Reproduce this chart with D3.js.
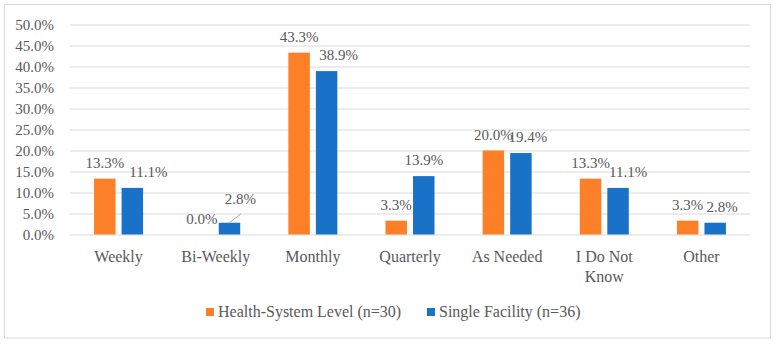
<!DOCTYPE html>
<html>
<head>
<meta charset="utf-8">
<script src="https://cdn.jsdelivr.net/npm/d3@7"></script>
<style>
  body { margin: 0; background: #fff; }
  svg text { font-family: "Liberation Serif", serif; fill: #595959; }
</style>
</head>
<body>
<div id="chart"></div>
<script>
var categories = ["Weekly", "Bi-Weekly", "Monthly", "Quarterly", "As Needed", "I Do Not Know", "Other"];
var seriesNames = ["Health-System Level (n=30)", "Single Facility (n=36)"];
var healthSystem = [13.3, 0.0, 43.3, 3.3, 20.0, 13.3, 3.3];
var singleFacility = [11.1, 2.8, 38.9, 13.9, 19.4, 11.1, 2.8];
var yTicks = [0, 5, 10, 15, 20, 25, 30, 35, 40, 45, 50];

// manual nudges for the single facility labels, like in the original
var labelShiftX = [16, 11, 12, 0, 7, 10, 7];
var labelShiftY = [0, -8, 0, 0, 0, 0, 0];

var colors = ["#fd7f27", "#1a72c8"];

var width = 776, height = 345;
var margin = {top: 24.5, right: 26, bottom: 110.5, left: 70};
var plotW = width - margin.left - margin.right,
    plotH = height - margin.top - margin.bottom;

var svg = d3.select("#chart").append("svg")
    .attr("width", width)
    .attr("height", height);

// outer frame
svg.append("rect")
    .attr("x", 4.5).attr("y", 4.5)
    .attr("width", 766).attr("height", 333.5)
    .attr("fill", "#fff")
    .attr("stroke", "#d9d9d9")
    .attr("stroke-width", 1);

var g = svg.append("g")
    .attr("transform", "translate(" + margin.left + "," + margin.top + ")");

var x = d3.scaleBand().domain(categories).range([0, plotW]);
var x1 = d3.scaleBand().domain([0, 1]).range([-24.5, 24.5]).paddingInner(0.22);
var y = d3.scaleLinear().domain([0, 50]).range([plotH, 0]);

// gridlines
g.selectAll("line.grid")
    .data(yTicks)
  .enter().append("line")
    .attr("class", "grid")
    .attr("x1", 0).attr("x2", plotW)
    .attr("y1", function(d) { return Math.round(y(d)) + 0.5; })
    .attr("y2", function(d) { return Math.round(y(d)) + 0.5; })
    .attr("stroke", "#d9d9d9")
    .attr("stroke-width", 1);

// y axis labels
var yAxis = d3.axisLeft(y)
    .tickValues(yTicks)
    .tickSize(0)
    .tickPadding(16)
    .tickFormat(function(d) { return d.toFixed(1) + "%"; });
var yg = g.append("g")
    .attr("class", "y axis")
    .call(yAxis);
yg.attr("font-family", null).attr("font-size", null);
yg.select(".domain").remove();
yg.selectAll("text")
    .attr("fill", null)
    .style("font-size", "15px");

// x axis labels
var xAxis = d3.axisBottom(x).tickSize(0).tickPadding(0);
var xg = g.append("g")
    .attr("class", "x axis")
    .attr("transform", "translate(0," + plotH + ")")
    .call(xAxis);
xg.attr("font-family", null).attr("font-size", null);
xg.select(".domain").remove();
xg.selectAll("text").remove();
xg.selectAll(".tick").each(function(d) {
  var t = d3.select(this).append("text")
      .attr("text-anchor", "middle")
      .style("font-size", "16px")
      .attr("y", 27);
  var lines = d === "I Do Not Know" ? ["I Do Not", "Know"] : [d];
  lines.forEach(function(l, i) {
    t.append("tspan").attr("x", 0).attr("dy", i === 0 ? 0 : 20).text(l);
  });
});

var series = [healthSystem, singleFacility];

series.forEach(function(vals, s) {
  var grp = g.append("g");
  grp.selectAll("rect")
      .data(vals)
    .enter().append("rect")
      .attr("x", function(d, i) { return x(categories[i]) + x.bandwidth() / 2 + x1(s); })
      .attr("width", x1.bandwidth())
      .attr("y", function(d) { return y(d); })
      .attr("height", function(d) { return plotH - y(d); })
      .attr("fill", colors[s]);

  grp.selectAll("text")
      .data(vals)
    .enter().append("text")
      .attr("text-anchor", "middle")
      .style("font-size", "15px")
      .attr("x", function(d, i) {
        return x(categories[i]) + x.bandwidth() / 2 + x1(s) + x1.bandwidth() / 2 + (s === 1 ? labelShiftX[i] : 0);
      })
      .attr("y", function(d, i) { return y(d) - 11 + (s === 1 ? labelShiftY[i] : 0); })
      .text(function(d) { return d.toFixed(1) + "%"; });
});

// leader line for the moved Bi-Weekly label
var bi = categories.indexOf("Bi-Weekly");
var bx = x(categories[bi]) + x.bandwidth() / 2 + x1(1) + x1.bandwidth() / 2;
g.append("line")
    .attr("x1", bx).attr("y1", y(singleFacility[bi]))
    .attr("x2", bx + 11.5).attr("y2", y(singleFacility[bi]) - 9)
    .attr("stroke", "#a6a6a6")
    .attr("stroke-width", 1);

// legend
var legendX = [206, 427];
var legend = svg.append("g");
seriesNames.forEach(function(name, i) {
  legend.append("rect")
      .attr("x", legendX[i]).attr("y", 308)
      .attr("width", 8).attr("height", 8)
      .attr("fill", colors[i]);
  legend.append("text")
      .attr("x", legendX[i] + 12).attr("y", 317)
      .style("font-size", "16px")
      .text(name);
});
</script>
</body>
</html>
